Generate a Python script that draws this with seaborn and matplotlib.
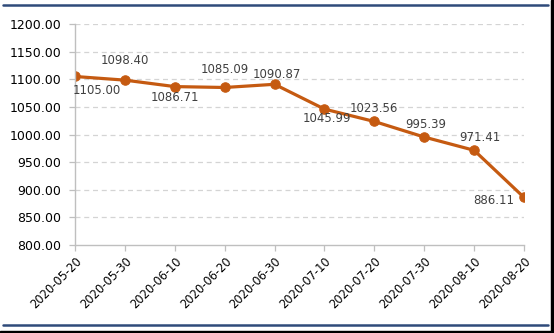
import matplotlib
matplotlib.use("Agg")
import matplotlib.pyplot as plt
import seaborn as sns
import pandas as pd
from matplotlib.patches import Rectangle
from matplotlib.lines import Line2D

dates = ["2020-05-20", "2020-05-30", "2020-06-10", "2020-06-20", "2020-06-30",
         "2020-07-10", "2020-07-20", "2020-07-30", "2020-08-10", "2020-08-20"]
values = [1105.00, 1098.40, 1086.71, 1085.09, 1090.87,
          1045.99, 1023.56, 995.39, 971.41, 886.11]
yticks = [800, 850, 900, 950, 1000, 1050, 1100, 1150, 1200]
# label offsets in points (dx, dy)
label_offsets = [(16, -10), (0, 14), (0, -8), (0, 13), (2, 7),
                 (2, -7), (0, 9), (1, 9), (4, 9), (-22, -2)]

sns.set_theme(style="white")
plt.rcParams['font.family'] = ['DejaVu Sans']

W, H = 554, 333
fig = plt.figure(figsize=(W / 100, H / 100), dpi=100)
ax = fig.add_axes([75 / W, 1 - 245 / H, (524 - 75) / W, (245 - 24) / H])

df = pd.DataFrame({"date": dates, "value": values, "idx": range(len(dates))})
color = "#C55A11"
sns.lineplot(data=df, x="idx", y="value", ax=ax, color=color, linewidth=2.3,
             marker="o", markersize=6.8, markeredgecolor=color, markerfacecolor=color)

ax.set_xlim(0, len(dates) - 1)
ax.set_ylim(800, 1200)
ax.set_yticks(yticks)
ax.set_yticklabels([f"{v:.2f}" for v in yticks], fontsize=9, color="black")
ax.set_xticks(range(len(dates)))
ax.set_xticklabels(dates, rotation=45, ha="right", rotation_mode="anchor",
                   fontsize=8.3, color="black")
ax.set_xlabel("")
ax.set_ylabel("")

for y in yticks[1:]:
    ax.axhline(y, color="#D4D4D4", linestyle=(0, (4, 3)), linewidth=0.9, zorder=0)

for s in ["top", "right"]:
    ax.spines[s].set_visible(False)
for s in ["left", "bottom"]:
    ax.spines[s].set_color("#BFBFBF")
    ax.spines[s].set_linewidth(1.0)
ax.tick_params(axis="y", which="both", direction="out", length=4, width=0.9,
               color="#BFBFBF", pad=6, left=True)
ax.tick_params(axis="x", which="both", direction="out", length=4, width=0.9,
               color="#BFBFBF", pad=3, bottom=True)
ax.set_facecolor("none")

for i, (v, (dx, dy)) in enumerate(zip(values, label_offsets)):
    ax.annotate(f"{v:.2f}", (i, v), xytext=(dx, dy), textcoords="offset points",
                ha="center", va="center", fontsize=8.5, color="#404040")

# frame decoration: navy lines and black edges
fig.add_artist(Line2D([3 / W, 548 / W], [1 - 4.5 / H, 1 - 4.5 / H],
                      transform=fig.transFigure, color="#2F4A7A", linewidth=1.8))
fig.add_artist(Line2D([3 / W, 548 / W], [1 - 325 / H, 1 - 325 / H],
                      transform=fig.transFigure, color="#2F4A7A", linewidth=1.8))
fig.add_artist(Rectangle((551 / W, 0), 3 / W, 1, transform=fig.transFigure,
                         color="black", zorder=10))
fig.add_artist(Rectangle((0, 0), 1, 2 / H, transform=fig.transFigure,
                         color="black", zorder=10))

fig.savefig("out.png", dpi=100, facecolor="white")
